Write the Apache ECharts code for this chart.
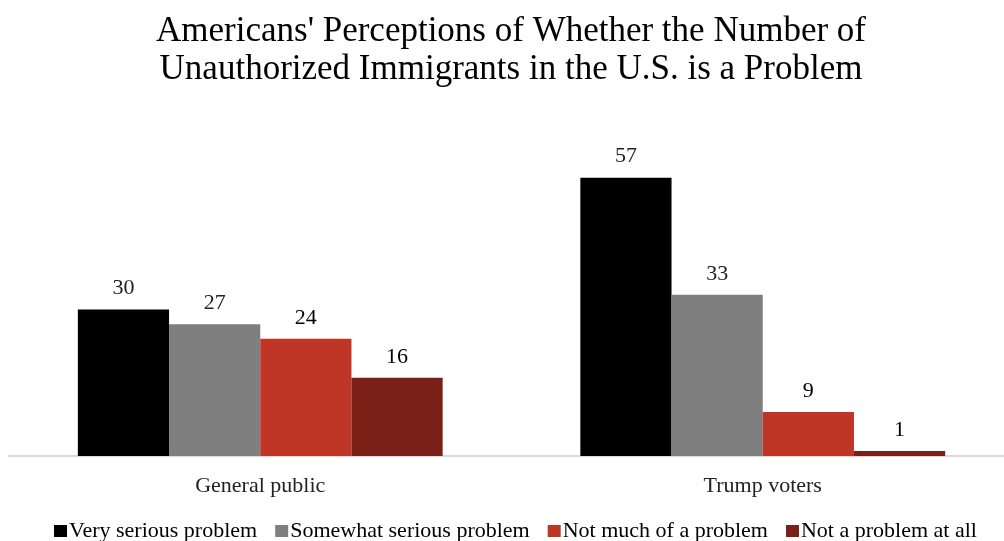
<!DOCTYPE html>
<html>
<head>
<meta charset="utf-8">
<script src="https://cdn.jsdelivr.net/npm/echarts@6/dist/echarts.min.js"></script>
<style>
  html, body { margin: 0; padding: 0; background: #fff; }
  #chart { width: 1004px; height: 541px; }
</style>
</head>
<body>
<div id="chart"></div>
<script>
// Survey groups and response shares (%)
const categories = ['General public', 'Trump voters'];
const seriesNames = ['Very serious problem', 'Somewhat serious problem', 'Not much of a problem', 'Not a problem at all'];
const verySerious = [30, 57];
const somewhatSerious = [27, 33];
const notMuch = [24, 9];
const notAtAll = [16, 1];

const values = [verySerious, somewhatSerious, notMuch, notAtAll];
const colors = ['#000000', '#7f7f7f', '#bf3627', '#7a2016'];
const labelColors = ['#222', '#222', '#000', '#000'];
const font = '"Liberation Serif", "Times New Roman", serif';

const chart = echarts.init(document.getElementById('chart'));
chart.setOption({
  animation: false,
  textStyle: { fontFamily: font },
  title: {
    text: "Americans' Perceptions of Whether the Number of\nUnauthorized Immigrants in the U.S. is a Problem",
    left: 506,
    textAlign: 'center',
    top: 8,
    textStyle: { fontFamily: font, fontSize: 35, fontWeight: 'normal', color: '#000', lineHeight: 38 }
  },
  legend: {
    left: 54,
    bottom: -1,
    padding: [0, 0, 0, 0],
    icon: 'rect',
    itemWidth: 13,
    itemHeight: 12,
    itemGap: 18,
    textStyle: { fontFamily: font, fontSize: 22, color: '#000', padding: [0, 0, 0, -3] },
    data: seriesNames
  },
  grid: { left: 9, right: -10, top: 163, bottom: 85, outerBoundsMode: 'none' },
  xAxis: {
    type: 'category',
    data: categories,
    axisLine: { lineStyle: { color: '#d9d9d9', width: 2 } },
    axisTick: { show: false },
    axisLabel: { fontFamily: font, fontSize: 22, color: '#222', margin: 19 }
  },
  yAxis: { type: 'value', min: 0, max: 60, show: false, splitLine: { show: false } },
  series: seriesNames.map((name, i) => ({
    name,
    type: 'bar',
    data: values[i],
    barGap: 0,
    barCategoryGap: '27.4%',
    itemStyle: { color: colors[i] },
    label: {
      show: true,
      position: 'top',
      distance: 10,
      fontFamily: font,
      fontSize: 22,
      color: labelColors[i]
    }
  }))
});
</script>
</body>
</html>
